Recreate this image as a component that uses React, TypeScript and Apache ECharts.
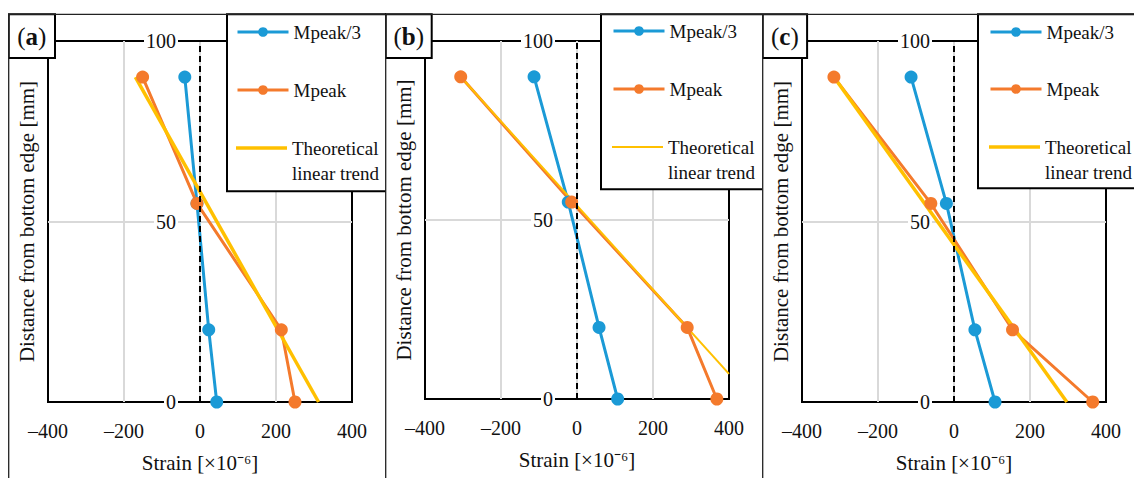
import React, { useEffect, useRef } from "react";
import * as echarts from "echarts";

// Heights of the measuring points [mm]
const heights = [90, 55, 20, 0];

// Panel (a)
const mpeak3A = [-40, -8, 23, 44];
const mpeakA = [-151, -8, 214, 250];
const theoryStrainA = [-170, 312];
const theoryHeightA = [90, 0];

// Panel (b)
const mpeak3B = [-113, -23, 58, 107];
const mpeakB = [-306, -14, 290, 368];
const theoryStrainB = [-306, 400];
const theoryHeightB = [90, 7];

// Panel (c)
const mpeak3C = [-113, -20, 55, 108];
const mpeakC = [-316, -61, 154, 365];
const theoryStrainC = [-316, 297];
const theoryHeightC = [90, 0];

const seriesNames = ["Mpeak/3", "Mpeak", "Theoretical linear trend"];
const panelLabels = ["a", "b", "c"];
const xLabelText = "Strain [×10⁻⁶]";
const yLabelText = "Distance from bottom edge [mm]";

const FONT = "'Liberation Serif', 'Times New Roman', serif";
const BLUE = "#1b9ad6";
const ORANGE = "#f47a2c";
const YELLOW = "#ffc000";
const TXT = "#111";

type PanelCfg = {
  label: string;
  left: number;
  width: number;
  gridH: number;
  mpeak3: number[];
  mpeak: number[];
  theoryX: number[];
  theoryY: number[];
  theoryWidth: number;
  legendBoxX: number;
  legendBoxW: number;
  legendBoxH: number;
  legendIconX: number;
  legendY: number[];
  labelBoxW: number;
};

const panels: PanelCfg[] = [
  {
    label: panelLabels[0], left: 8, width: 378, gridH: 361,
    mpeak3: mpeak3A, mpeak: mpeakA, theoryX: theoryStrainA, theoryY: theoryHeightA, theoryWidth: 3.5,
    legendBoxX: 219, legendBoxW: 162, legendBoxH: 177, legendIconX: 228, legendY: [32, 90, 148], labelBoxW: 46.3,
  },
  {
    label: panelLabels[1], left: 385, width: 377, gridH: 358,
    mpeak3: mpeak3B, mpeak: mpeakB, theoryX: theoryStrainB, theoryY: theoryHeightB, theoryWidth: 2,
    legendBoxX: 216, legendBoxW: 165, legendBoxH: 175, legendIconX: 227, legendY: [31, 89, 147], labelBoxW: 46,
  },
  {
    label: panelLabels[2], left: 762, width: 372, gridH: 361,
    mpeak3: mpeak3C, mpeak: mpeakC, theoryX: theoryStrainC, theoryY: theoryHeightC, theoryWidth: 3.5,
    legendBoxX: 216, legendBoxW: 170, legendBoxH: 174, legendIconX: 227, legendY: [32, 89, 147], labelBoxW: 44.4,
  },
];

function pairs(xs: number[], ys: number[]) {
  return xs.map((x, i) => [x, ys[i]]);
}

function buildOption(p: PanelCfg) {
  const legendCommon = {
    padding: 0,
    itemWidth: 51,
    itemHeight: 12,
    itemGap: 0,
    selectedMode: false,
    orient: "vertical",
    left: p.legendIconX,
    z: 20,
    lineStyle: { width: 3 },
    textStyle: { fontFamily: FONT, fontSize: 19, color: TXT, lineHeight: 20 },
  };
  return {
    animation: false,
    grid: {
      left: 40, top: 41, width: 304, height: p.gridH,
      show: true, borderColor: "#000", borderWidth: 2, backgroundColor: "transparent",
    },
    xAxis: {
      type: "value", min: -400, max: 400, interval: 200,
      axisLine: { show: false }, axisTick: { show: false },
      splitLine: { show: true, showMinLine: false, showMaxLine: false, lineStyle: { color: "#d9d9d9", width: 2 } },
      axisLabel: {
        fontFamily: FONT, fontSize: 20, color: TXT, margin: 19,
        formatter: (v: number) => (v < 0 ? "\u2013" + Math.abs(v) : String(v)),
      },
      name: xLabelText, nameLocation: "middle", nameGap: 50,
      nameTextStyle: { fontFamily: FONT, fontSize: 21, color: TXT },
    },
    yAxis: {
      type: "value", min: 0, max: 100, interval: 50,
      axisLine: { show: false }, axisTick: { show: false },
      splitLine: { show: true, showMinLine: false, showMaxLine: false, lineStyle: { color: "#d9d9d9", width: 2 } },
      axisLabel: {
        inside: true, align: "right", margin: 130,
        fontFamily: FONT, fontSize: 20, color: TXT,
        backgroundColor: "#fff", padding: [0, 2],
      },
      name: yLabelText, nameLocation: "middle", nameGap: 11, nameRotate: 90,
      nameTextStyle: { fontFamily: FONT, fontSize: 21, color: TXT },
    },
    legend: [
      { ...legendCommon, data: [seriesNames[0]], top: p.legendY[0] - 10 },
      { ...legendCommon, data: [seriesNames[1]], top: p.legendY[1] - 10 },
      {
        ...legendCommon,
        data: [{ name: seriesNames[2], icon: "rect" }],
        itemHeight: p.theoryWidth,
        top: p.legendY[2] - 37.5,
        formatter: () => "\nTheoretical\nlinear trend",
        textStyle: { fontFamily: FONT, fontSize: 19, color: TXT, lineHeight: 25 },
      },
    ],
    graphic: [
      {
        type: "rect", z: 10, silent: true,
        shape: { x: p.legendBoxX, y: 14.3, width: p.legendBoxW, height: p.legendBoxH },
        style: { fill: "#fff", stroke: "#000", lineWidth: 2 },
      },
      {
        type: "rect", z: 10, silent: true,
        shape: { x: 0.7, y: 14.3, width: p.labelBoxW, height: 43.7 },
        style: { fill: "#fff", stroke: "#000", lineWidth: 2 },
      },
      {
        type: "text", z: 11, silent: true,
        x: 0.7 + p.labelBoxW / 2, y: 36,
        style: {
          text: "{p|(}{b|" + p.label + "}{p|)}",
          align: "center", verticalAlign: "middle",
          rich: {
            p: { fontFamily: FONT, fontSize: 25, fill: TXT, fontWeight: "normal" },
            b: { fontFamily: FONT, fontSize: 25, fill: TXT, fontWeight: "bold" },
          },
        },
      },
      {
        type: "line", z: 12, silent: true,
        shape: { x1: 0, y1: 14.3, x2: p.width, y2: 14.3 },
        style: { stroke: "#222", lineWidth: 1.3 },
      },
      {
        type: "line", z: 12, silent: true,
        shape: { x1: 0.7, y1: 14, x2: 0.7, y2: 478 },
        style: { stroke: "#222", lineWidth: 1.3 },
      },
    ],
    series: [
      {
        name: seriesNames[0], type: "line", data: pairs(p.mpeak3, heights),
        symbol: "circle", symbolSize: 13,
        lineStyle: { color: BLUE, width: 3 }, itemStyle: { color: BLUE },
        markLine: {
          silent: true, symbol: ["none", "none"], label: { show: false },
          lineStyle: { type: [6, 4], color: "#000", width: 2 },
          data: [{ xAxis: 0 }],
        },
      },
      {
        name: seriesNames[1], type: "line", data: pairs(p.mpeak, heights),
        symbol: "circle", symbolSize: 13,
        lineStyle: { color: ORANGE, width: 3 }, itemStyle: { color: ORANGE },
      },
      {
        name: seriesNames[2], type: "line", data: pairs(p.theoryX, p.theoryY),
        symbol: "none",
        lineStyle: { color: YELLOW, width: p.theoryWidth }, itemStyle: { color: YELLOW },
      },
    ],
  };
}

function Panel({ cfg }: { cfg: PanelCfg }) {
  const ref = useRef<HTMLDivElement>(null);
  useEffect(() => {
    if (!ref.current) return;
    const chart = echarts.init(ref.current, undefined, { renderer: "svg" });
    chart.setOption(buildOption(cfg) as any);
    return () => chart.dispose();
  }, [cfg]);
  return (
    <div
      ref={ref}
      style={{
        position: "absolute", left: cfg.left, top: 0,
        width: cfg.width, height: 478, overflow: "hidden",
      }}
    />
  );
}

export default function App() {
  return (
    <div
      style={{
        position: "fixed", left: 0, top: 0, width: 1134, height: 478,
        background: "#fff", overflow: "hidden",
      }}
    >
      {panels.map((p) => (
        <Panel key={p.label} cfg={p} />
      ))}
    </div>
  );
}
